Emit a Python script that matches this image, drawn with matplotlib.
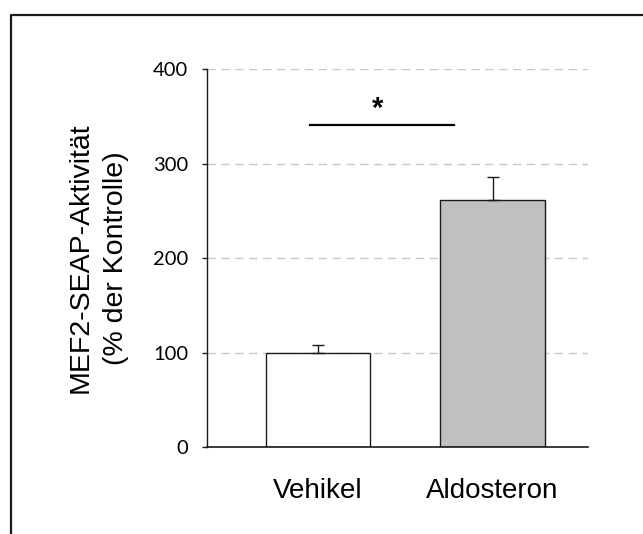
import matplotlib
matplotlib.use("Agg")
import matplotlib.pyplot as plt
from matplotlib.lines import Line2D

categories = ["Vehikel", "Aldosteron"]
values = [100, 262]
errors = [7.5, 23.5]
bar_colors = ["white", "#c0c0c0"]
yticks = [0, 100, 200, 300, 400]
sig_y = 341
sig_text = "*"

W, H = 643, 534
fig = plt.figure(figsize=(W / 100, H / 100), dpi=100)

# outer frame (left and top edges)
fig.add_artist(Line2D([11 / W, 11 / W, 1.0], [0.0, 1 - 15 / H, 1 - 15 / H],
                      transform=fig.transFigure, color="#1a1a1a", lw=1.6))

ax_l, ax_r, ax_t, ax_b = 207, 588, 69.3, 447
ax = fig.add_axes([ax_l / W, 1 - ax_b / H, (ax_r - ax_l) / W, (ax_b - ax_t) / H])

x = list(range(len(categories)))
ax.set_xlim(-0.636, 1.547)
ax.set_ylim(0, 400)

for yv in yticks[1:]:
    ax.axhline(yv, color="#c8c8c8", lw=1.0, ls=(0, (6, 4)), zorder=0)

ax.bar(x, values, width=0.6, color=bar_colors, edgecolor="#1a1a1a", lw=1.0, zorder=2)
ax.errorbar(x, values, yerr=[[0, 0], errors], fmt="none", ecolor="#1a1a1a",
            elinewidth=1.0, capsize=4.5, capthick=1.0, zorder=3)

# significance line
ax.plot([-0.046, 0.78], [sig_y, sig_y], color="black", lw=1.6, zorder=3)
ax.text(0.344, sig_y + 9, sig_text, ha="center", va="baseline", fontsize=21,
        family="Liberation Sans", fontweight="bold")

for s in ["top", "right"]:
    ax.spines[s].set_visible(False)
ax.spines["left"].set_color("#1a1a1a")
ax.spines["bottom"].set_color("#1a1a1a")
ax.spines["left"].set_linewidth(1.0)
ax.spines["bottom"].set_linewidth(1.2)

ax.set_yticks(yticks)
ax.set_yticklabels([str(t) for t in yticks], family="Lato", fontsize=14.5)
ax.tick_params(axis="y", direction="out", length=3.6, width=1.0, pad=10, color="#1a1a1a")
ax.set_xticks(x)
ax.set_xticklabels(categories, family="Liberation Sans", fontsize=20)
ax.tick_params(axis="x", length=0, pad=22)

ax.set_ylabel("MEF2-SEAP-Aktivität\n(% der Kontrolle)", family="Liberation Sans",
              fontsize=20.5, labelpad=17, linespacing=1.5)

fig.savefig("out.png", dpi=100)
